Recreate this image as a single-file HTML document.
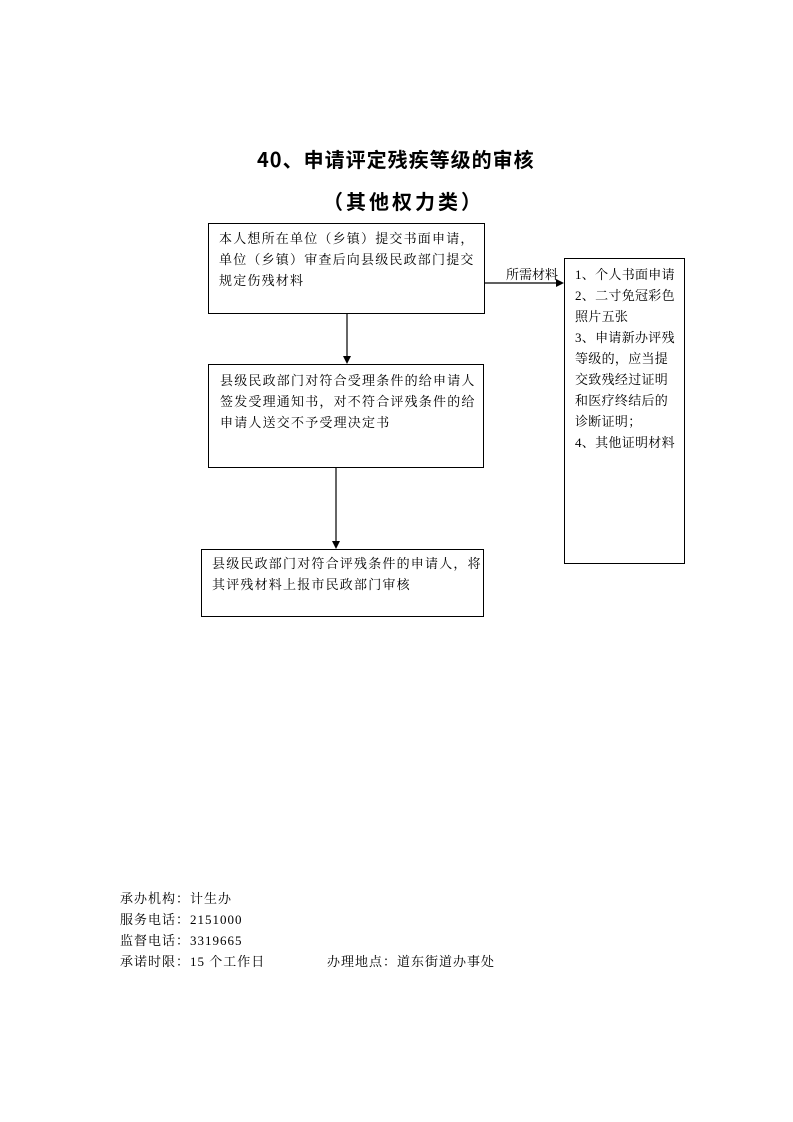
<!DOCTYPE html>
<html><head><meta charset="utf-8"><style>
body{margin:0;background:#fff;}
#p{position:relative;width:793px;height:1122px;font-family:"Liberation Serif","Noto Serif CJK SC","Noto Sans CJK SC",serif;color:#000;}
.t{position:absolute;white-space:nowrap;}
.b{position:absolute;border:1.5px solid #000;box-sizing:border-box;font-size:13px;line-height:21px;letter-spacing:1.2px;}
h1{position:absolute;margin:0;font-size:20px;font-weight:bold;font-family:"Noto Sans CJK SC",sans-serif;white-space:nowrap;}
.f{position:absolute;left:120px;font-size:13px;white-space:nowrap;letter-spacing:1px;}
</style></head><body><div id="p">
<h1 style="left:257px;top:144px;letter-spacing:1px;">40、申请评定残疾等级的审核</h1>
<h1 style="left:323px;top:186px;letter-spacing:3px;">（其他权力类）</h1>
<div class="b" style="left:208px;top:223px;width:277px;height:91px;padding:4px 0 0 10px;">本人想所在单位（乡镇）提交书面申请，<br>单位（乡镇）审查后向县级民政部门提交<br>规定伤残材料</div>
<div class="b" style="left:564px;top:258px;width:121px;height:306px;padding:5px 0 0 10px;letter-spacing:0.3px;">1、个人书面申请<br>2、二寸免冠彩色<br>照片五张<br>3、申请新办评残<br>等级的，应当提<br>交致残经过证明<br>和医疗终结后的<br>诊断证明；<br>4、其他证明材料</div>
<div class="b" style="left:208px;top:364px;width:276px;height:104px;padding:5px 0 0 11px;">县级民政部门对符合受理条件的给申请人<br>签发受理通知书，对不符合评残条件的给<br>申请人送交不予受理决定书</div>
<div class="b" style="left:201px;top:549px;width:283px;height:68px;padding:3px 0 0 10px;">县级民政部门对符合评残条件的申请人，将<br>其评残材料上报市民政部门审核</div>
<div class="t" style="left:506px;top:264px;font-size:13px;">所需材料</div>
<svg style="position:absolute;left:0;top:0" width="793" height="1122">
<line x1="484" y1="283" x2="557" y2="283" stroke="#000" stroke-width="1.2"/>
<polygon points="564,283 556,279 556,287" fill="#000"/>
<line x1="347" y1="314" x2="347" y2="357" stroke="#000" stroke-width="1.2"/>
<polygon points="347,364 343,356 351,356" fill="#000"/>
<line x1="336" y1="468" x2="336" y2="542" stroke="#000" stroke-width="1.2"/>
<polygon points="336,549 332,541 340,541" fill="#000"/>
</svg>
<div class="f" style="top:888px;">承办机构：计生办</div>
<div class="f" style="top:909px;">服务电话：2151000</div>
<div class="f" style="top:930px;">监督电话：3319665</div>
<div class="f" style="top:951px;">承诺时限：15 个工作日</div>
<div class="f" style="top:951px;left:327px;">办理地点：道东街道办事处</div>
</div></body></html>
